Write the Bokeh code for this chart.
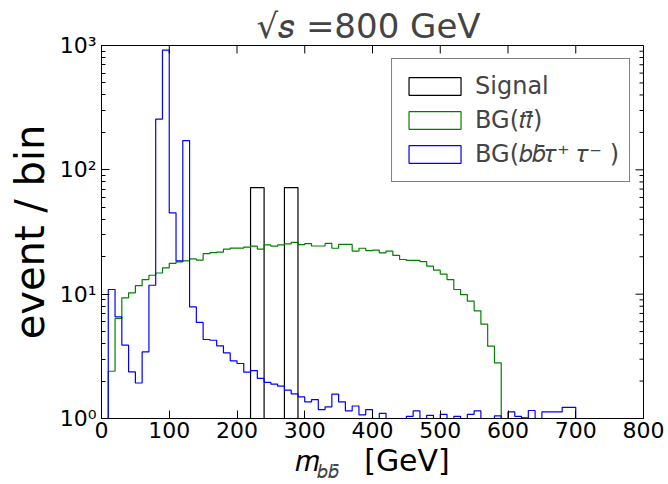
import numpy as np
from bokeh.plotting import figure
from bokeh.models import Label, Legend, LegendItem, FixedTicker, Range1d
from bokeh.embed import file_html
from bokeh.resources import INLINE

# ---------------- data (10 GeV bins, left edges 0 ... 690) ----------------
bin_width = 10
bin_left = list(range(0, 700, 10))

signal = [0, 0, 0, 0, 0, 0, 0, 0, 0, 0,
          0, 0, 0, 0, 0, 0, 0, 0, 0, 0,
          0, 0, 72, 72, 0, 0, 0, 72, 72, 0,
          0, 0, 0, 0, 0, 0, 0, 0, 0, 0,
          0, 0, 0, 0, 0, 0, 0, 0, 0, 0,
          0, 0, 0, 0, 0, 0, 0, 0, 0, 0,
          0, 0, 0, 0, 0, 0, 0, 0, 0, 0]

bg_tt = [0, 2.40, 6.37, 9.34, 10.25, 11.7, 13.1, 14.2, 14.8, 16.3,
         17.7, 18.2, 18.5, 19.2, 18.8, 21.2, 21.6, 21.8, 23.0, 23.5,
         23.5, 23.9, 24.3, 23.0, 24.9, 24.3, 24.9, 25.4, 26.1, 25.0,
         25.5, 24.4, 24.4, 25.6, 23.4, 25.1, 25.1, 22.2, 23.4, 22.4,
         22.6, 21.5, 22.2, 20.5, 19.0, 18.7, 18.7, 18.3, 16.8, 15.6,
         14.5, 13.1, 10.9, 9.9, 8.8, 7.35, 5.74, 3.82, 2.80, 0,
         0, 0, 0, 0, 0, 0, 0, 0, 0, 0]

bg_bbtautau = [0, 10.9, 6.57, 3.89, 2.37, 1.93, 3.43, 11.8, 256, 918,
               45.1, 18.5, 172, 7.9, 5.92, 4.32, 4.26, 3.84, 3.37, 2.91,
               2.77, 2.36, 2.43, 2.10, 1.95, 1.89, 1.82, 1.69, 1.58, 1.49,
               1.36, 1.42, 1.18, 1.24, 1.57, 1.36, 1.15, 1.26, 1.07, 1.18,
               0, 1.10, 0, 0, 0, 1.04, 1.15, 0, 1.06, 0,
               1.08, 0, 1.04, 0, 1.08, 1.15, 0, 0, 1.05, 0,
               1.13, 1.04, 1.01, 1.16, 0, 1.13, 1.13, 1.13, 1.23, 1.23]

labels = ["Signal", "BG(𝑡𝑡̄)", "BG(𝑏𝑏̄𝜏⁺ 𝜏⁻ )"]
colors = ["#000000", "#008000", "#0000ff"]

y_major = [1, 10, 100, 1000]
y_major_labels = ["10⁰", "10¹", "10²", "10³"]
x_major = [0, 100, 200, 300, 400, 500, 600, 700, 800]
x_min, x_max = 0, 800
y_min, y_max = 1, 1000

title_text = "√𝑠 =800 GeV"
x_label_main = "𝑚\u2003\u2002[GeV]"
x_label_sub = "𝑏𝑏̄"
y_label = "event / bin"

FONT = "DejaVu Sans"

p = figure(width=668, height=484,
           x_range=Range1d(x_min, x_max), y_range=Range1d(y_min, y_max),
           y_axis_type="log", output_backend="svg", toolbar_location=None,
           min_border_left=101, min_border_right=25,
           min_border_top=45, min_border_bottom=66)
p.background_fill_color = "white"
p.border_fill_color = "white"
p.outline_line_color = "black"
p.xgrid.visible = False
p.ygrid.visible = False


def step_outline(values):
    v = np.asarray(values, dtype=float)
    edges = np.arange(len(v) + 1) * bin_width + bin_left[0]
    floor = 1e-3
    v = np.where(v > 0, v, floor)
    xs = np.repeat(edges, 2)
    ys = np.concatenate([[floor], np.repeat(v, 2), [floor]])
    return xs, ys


renderers = []
for vals, col in zip([signal, bg_tt, bg_bbtautau], colors):
    xs, ys = step_outline(vals)
    r = p.patch(xs, ys, fill_alpha=0, line_color=col, line_width=1.2)
    renderers.append(r)

minor = [m * d for d in y_major[:-1] for m in range(2, 10)]
yt = FixedTicker(ticks=y_major, minor_ticks=minor)
xt = FixedTicker(ticks=x_major, minor_ticks=[])

xa = p.xaxis[0]
xa.ticker = xt
ya = p.yaxis[0]
ya.ticker = yt
ya.major_label_overrides = {t: l for t, l in zip(y_major, y_major_labels)}

for ax in (xa, ya):
    ax.major_tick_in = 8
    ax.major_tick_out = 0
    ax.minor_tick_in = 4
    ax.minor_tick_out = 0
    ax.major_label_text_font = FONT
    ax.major_label_text_font_size = "22px"
    ax.major_label_text_color = "black"
    ax.axis_line_color = "black"
    ax.axis_label_text_font = FONT
    ax.axis_label_text_font_style = "normal"
    ax.axis_label_text_color = "black"
xa.minor_tick_in = 0
xa.major_label_standoff = 3
ya.major_label_standoff = 5

ya.axis_label = y_label
ya.axis_label_text_font_size = "40px"
ya.axis_label_standoff = 4
xa.axis_label = x_label_main
xa.axis_label_text_font_size = "30px"
xa.axis_label_standoff = 2

# mirrored ticks on the top and right spines (inward, like the reference)
p.scatter(x=x_major, y=[y_max] * len(x_major), marker="dash", angle=np.pi / 2,
          size=16, line_color="black", line_width=1)
p.scatter(x=[x_max] * len(y_major), y=y_major, marker="dash",
          size=16, line_color="black", line_width=1)
p.scatter(x=[x_max] * len(minor), y=minor, marker="dash",
          size=8, line_color="black", line_width=1)

legend = Legend(items=[LegendItem(label=l, renderers=[r]) for l, r in zip(labels, renderers)],
                location="top_right", margin=13, padding=10, spacing=0,
                glyph_width=65, glyph_height=22, label_height=34, label_standoff=8,
                label_text_font=FONT, label_text_font_size="24px",
                border_line_color="black", border_line_width=1,
                background_fill_color="white", background_fill_alpha=1)
p.add_layout(legend)

# title in the top side panel (screen offsets from the panel's bottom-left)
p.add_layout(Label(x=267, y=0, x_units="screen", y_units="screen",
                   text=title_text, text_font=FONT, text_font_size="34px",
                   text_align="center", text_baseline="bottom"), "above")

# subscript of the x-axis label, held in the narrow right side panel
p.add_layout(Label(x=-327, y=-63, x_units="screen", y_units="screen",
                   text=x_label_sub, text_font=FONT, text_font_size="19px",
                   text_align="left", text_baseline="bottom"), "right")

open("out.html", "w").write(file_html(p, INLINE))
